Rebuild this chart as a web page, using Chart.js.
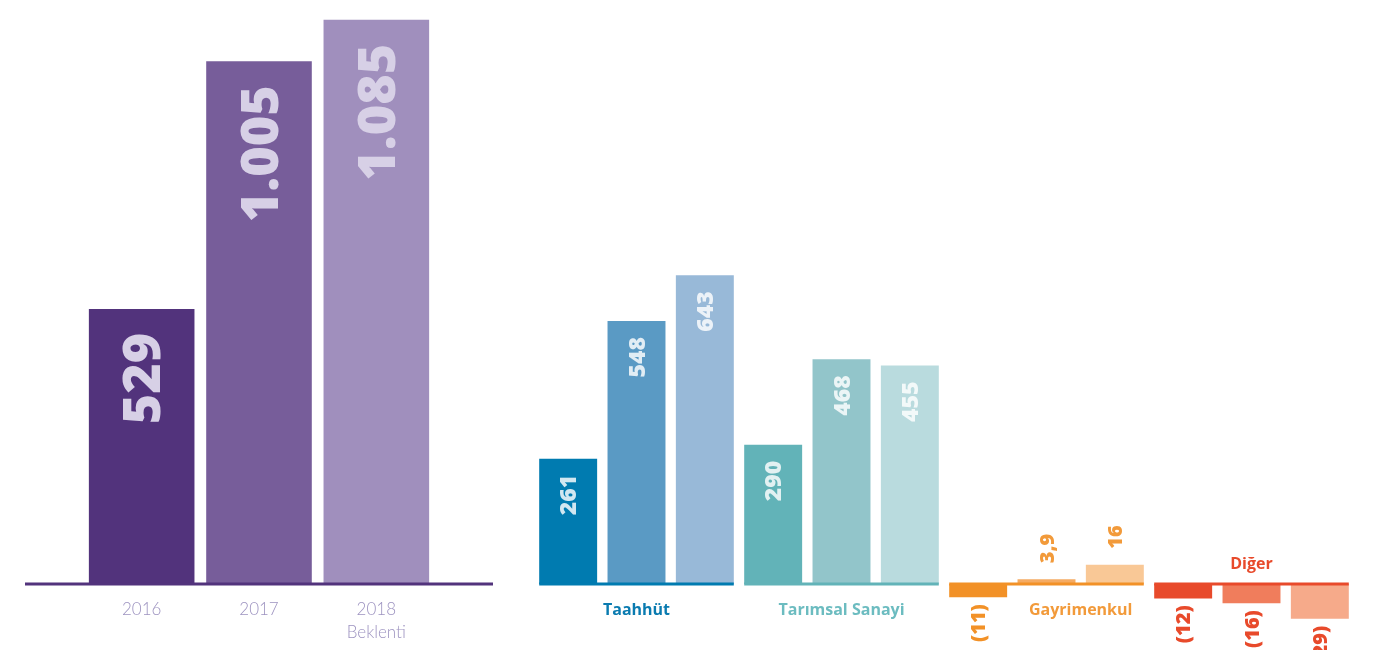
<!DOCTYPE html>
<html>
<head>
<meta charset="utf-8">
<script src="https://cdn.jsdelivr.net/npm/chart.js@4.4.1/dist/chart.umd.min.js"></script>
<style>
    body { margin: 0; background: #fff; width: 1373px; height: 650px; overflow: hidden; position: relative; }
    .box { position: absolute; top: 0; height: 650px; }
    #leftBox { left: 25px; width: 468px; }
    #rightBox { left: 520px; width: 853px; }
</style>
</head>
<body>
<div class="box" id="leftBox"><canvas id="totalChart"></canvas></div>
<div class="box" id="rightBox"><canvas id="segmentChart"></canvas></div>
<script>
// Data
const years = ['2016', '2017', ['2018', 'Beklenti']];
const totals = [529, 1005, 1085];

const segments = ['Taahhüt', 'Tarımsal Sanayi', 'Gayrimenkul', 'Diğer'];
const taahhut = [261, 548, 643];
const tarimsal = [290, 468, 455];
const gayrimenkul = [-11, 3.9, 16];
const diger = [-12, -16, -29];

// Colours
const totalColors = ['#52337c', '#775d9a', '#a08fbd'];
const segmentColors = [
    ['#007bb0', '#5a9ac4', '#98b9d8'],
    ['#62b3b8', '#92c5ca', '#b9dbde'],
    ['#f29127', '#f5ab63', '#f9c896'],
    ['#e84a2b', '#f07d5c', '#f6aa8a']
];
const segmentTextColors = ['#0a7bb0', '#6cbcc0', '#f29a3a', '#e84a2b'];
const FONT = '"Open Sans", sans-serif';

// Turkish number format: 1.005 / 3,9 / (11)
function fmt(v) {
    const a = Math.abs(v);
    let s = Number.isInteger(a)
        ? String(a).replace(/\B(?=(\d{3})+(?!\d))/g, '.')
        : String(a).replace('.', ',');
    return v < 0 ? `(${s})` : s;
}

function drawRotated(ctx, text, x, y, align, size, color) {
    ctx.save();
    ctx.translate(x, y);
    ctx.rotate(-Math.PI / 2);
    ctx.font = `800 ${size}px ${FONT}`;
    ctx.fillStyle = color;
    ctx.textAlign = align;
    ctx.textBaseline = 'alphabetic';
    ctx.fillText(text, 0, size * 0.36);
    ctx.restore();
}

// ---------- left: totals ----------
const totalPlugin = {
    id: 'totalDecor',
    afterDatasetsDraw(chart) {
        const ctx = chart.ctx;
        const zero = chart.scales.y.getPixelForValue(0);
        ctx.save();
        ctx.strokeStyle = '#52337c';
        ctx.lineWidth = 3;
        ctx.beginPath();
        ctx.moveTo(0, zero);
        ctx.lineTo(chart.width, zero);
        ctx.stroke();
        ctx.restore();

        chart.getDatasetMeta(0).data.forEach((bar, i) => {
            drawRotated(ctx, fmt(totals[i]), bar.x, bar.y + 24, 'right', 52, '#d7d0e6');
        });
    }
};

new Chart(document.getElementById('totalChart'), {
    type: 'bar',
    data: {
        labels: years,
        datasets: [{
            data: totals,
            backgroundColor: totalColors,
            categoryPercentage: 1,
            barPercentage: 0.9
        }]
    },
    options: {
        responsive: true,
        maintainAspectRatio: false,
        animation: false,
        layout: { padding: { left: 58, right: 58, top: 0, bottom: 0 } },
        plugins: { legend: { display: false }, tooltip: { enabled: false } },
        scales: {
            x: {
                grid: { display: false, drawTicks: false },
                border: { display: false },
                ticks: {
                    color: '#9d93c0',
                    padding: 14,
                    font: { family: 'Lato, sans-serif', size: 17, weight: 300, lineHeight: 1.35 }
                },
                afterFit: s => { s.height = 66; }
            },
            y: { display: false, min: 0, max: 1123 }
        }
    },
    plugins: [totalPlugin]
});

// ---------- right: segments ----------
const segLabels = [];
segments.forEach(s => years.forEach(y => segLabels.push(s + ' ' + [].concat(y)[0])));
const blank = [null, null, null, null, null, null];

const segmentPlugin = {
    id: 'segmentDecor',
    afterDatasetsDraw(chart) {
        const ctx = chart.ctx;
        const big = chart.getDatasetMeta(0).data;
        const small = chart.getDatasetMeta(1).data;
        const bars = big.slice(0, 6).concat(small.slice(6));
        const values = [...taahhut, ...tarimsal, ...gayrimenkul, ...diger];
        const zero = chart.scales.y.getPixelForValue(0);

        segments.forEach((name, g) => {
            const first = bars[g * 3], last = bars[g * 3 + 2];
            const x0 = first.x - first.width / 2, x1 = last.x + last.width / 2;
            ctx.save();
            ctx.strokeStyle = segmentColors[g][0];
            ctx.lineWidth = 3;
            ctx.beginPath();
            ctx.moveTo(x0, zero);
            ctx.lineTo(x1, zero);
            ctx.stroke();

            // group name
            let cx = (x0 + x1) / 2, cy = zero + 26;
            if (g === 2) cx = (bars[7].x + bars[8].x) / 2;
            if (g === 3) cy = zero - 20;
            ctx.font = `700 16px ${FONT}`;
            ctx.fillStyle = segmentTextColors[g];
            ctx.textAlign = 'center';
            ctx.textBaseline = 'middle';
            ctx.fillText(name, cx, cy);
            ctx.restore();
        });

        bars.forEach((bar, i) => {
            const v = values[i];
            const g = Math.floor(i / 3);
            if (g < 2) {
                drawRotated(ctx, fmt(v), bar.x, bar.y + 16, 'right', 23, 'rgba(255,255,255,0.82)');
            } else if (v >= 0) {
                drawRotated(ctx, fmt(v), bar.x, bar.y - 16, 'left', 20, segmentTextColors[g]);
            } else {
                drawRotated(ctx, fmt(v), bar.x, bar.y + 7, 'right', 20, segmentColors[g][0]);
            }
        });
    }
};

new Chart(document.getElementById('segmentChart'), {
    type: 'bar',
    data: {
        labels: segLabels,
        datasets: [{
            data: [...taahhut, ...tarimsal, ...blank],
            backgroundColor: [...segmentColors[0], ...segmentColors[1], ...blank],
            yAxisID: 'y',
            grouped: false,
            categoryPercentage: 1,
            barPercentage: 0.848
        }, {
            data: [...blank, ...gayrimenkul, ...diger],
            backgroundColor: [...blank, ...segmentColors[2], ...segmentColors[3]],
            yAxisID: 'y2',
            grouped: false,
            categoryPercentage: 1,
            barPercentage: 0.848
        }]
    },
    options: {
        responsive: true,
        maintainAspectRatio: false,
        animation: false,
        layout: { padding: { left: 14, right: 19, top: 0, bottom: 0 } },
        plugins: { legend: { display: false }, tooltip: { enabled: false } },
        scales: {
            x: { display: false },
            y: { display: false, min: -137.5, max: 1216.7 },
            y2: { display: false, min: -55, max: 486.7 }
        }
    },
    plugins: [segmentPlugin]
});
</script>
</body>
</html>
